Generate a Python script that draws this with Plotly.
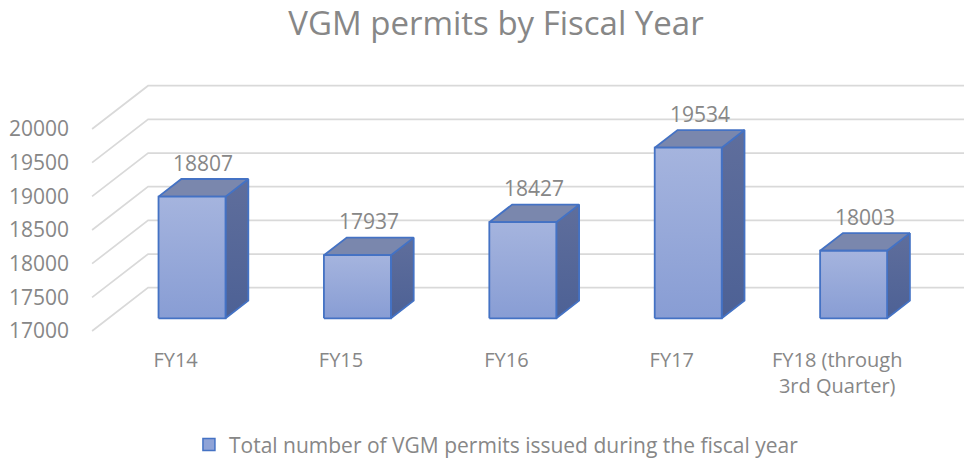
import plotly.graph_objects as go

# ---------------- data ----------------
categories = ["FY14", "FY15", "FY16", "FY17", "FY18 (through 3rd Quarter)"]
tick_labels = ["FY14", "FY15", "FY16", "FY17", "FY18 (through<br>3rd Quarter)"]
permits = [18807, 17937, 18427, 19534, 18003]
y_ticks = [17000, 17500, 18000, 18500, 19000, 19500, 20000]
series_name = "Total number of VGM permits issued during the fiscal year"
title_text = "VGM permits by Fiscal Year"

# ---------------- 3-D look settings (axis units) ----------------
BASE = y_ticks[0]
DEPTH_X = 0.3386      # category units per unit of depth
DEPTH_Y = 643.0       # value units per unit of depth
D_FRONT, D_BACK = 0.293, 0.70
HALF_W = 0.2025
WALL_L, WALL_R = -0.505, len(categories) - 0.5

TEXT = "#878787"
GRID = "#d9d9d9"
EDGE = "#4472c4"
FONT = "Open Sans"


def proj(x, v, d):
    return x + DEPTH_X * d, v + DEPTH_Y * d


fig = go.Figure()

# gridlines: side wall (slanted) + back wall (horizontal)
gx, gy = [], []
for v in y_ticks:
    pts = [proj(WALL_L, v, 0), proj(WALL_L, v, 1), proj(WALL_R, v, 1)]
    gx += [p[0] for p in pts] + [None]
    gy += [p[1] for p in pts] + [None]
fig.add_trace(go.Scatter(x=gx, y=gy, mode="lines", line=dict(color=GRID, width=1.7),
                         hoverinfo="skip", showlegend=False))


def face(corners, fill, grad=None):
    xs = [proj(*c)[0] for c in corners] + [proj(*corners[0])[0]]
    ys = [proj(*c)[1] for c in corners] + [proj(*corners[0])[1]]
    kw = dict(x=xs, y=ys, mode="lines", fill="toself",
              line=dict(color=EDGE, width=1.8), hoverinfo="skip", showlegend=False)
    if grad:
        kw["fillgradient"] = dict(type="vertical", colorscale=grad)
    else:
        kw["fillcolor"] = fill
    return go.Scatter(**kw)


for i, v in enumerate(permits):
    l, r = i - HALF_W, i + HALF_W
    # side face
    fig.add_trace(face([(r, BASE, D_FRONT), (r, v, D_FRONT), (r, v, D_BACK), (r, BASE, D_BACK)],
                       None, [[0, "#4d6195"], [1, "#5f6e9c"]]))
    # top face
    fig.add_trace(face([(l, v, D_FRONT), (r, v, D_FRONT), (r, v, D_BACK), (l, v, D_BACK)],
                       "#7a87ad"))
    # front face
    fig.add_trace(face([(l, BASE, D_FRONT), (r, BASE, D_FRONT), (r, v, D_FRONT), (l, v, D_FRONT)],
                       None, [[0, "#889dd4"], [1, "#a5b4de"]]))
    # value label
    lx, ly = proj(i, v, (D_FRONT + D_BACK) / 2)
    fig.add_annotation(x=lx, y=ly, text=str(v), showarrow=False, yshift=25,
                       font=dict(family=FONT, size=21, color=TEXT))

# legend entry
fig.add_trace(go.Bar(x=[None], y=[None], name=series_name,
                     marker=dict(color="#8fa3d7", line=dict(color=EDGE, width=1.5))))

fig.update_layout(
    width=964, height=460,
    margin=dict(l=70, r=0, t=0, b=114, autoexpand=False),
    paper_bgcolor="white", plot_bgcolor="white",
    font=dict(family=FONT, color=TEXT, size=20),
    title=dict(text=title_text, x=0.5145, xanchor="center", xref="container",
               y=0.95, yanchor="middle", yref="container",
               font=dict(family=FONT, size=33, color=TEXT)),
    xaxis=dict(type="linear", range=[-0.6385, 4.7666], tickvals=list(range(len(categories))),
               ticktext=tick_labels, showgrid=False, zeroline=False, showline=False,
               ticks="", tickfont=dict(size=20, color=TEXT), fixedrange=True, automargin=False),
    yaxis=dict(type="linear", range=[16777, 21916], tickvals=y_ticks, tickformat="d",
               showgrid=False, zeroline=False, showline=False, ticks="",
               tickfont=dict(size=21, color=TEXT), fixedrange=True, automargin=False),
    showlegend=True,
    legend=dict(orientation="h", xref="container", yref="container", x=0.196, xanchor="left",
                y=0.033, yanchor="middle", font=dict(size=21, color=TEXT)),
)

fig.write_html("out.html", config={"displayModeBar": False},
               post_script="document.body.style.margin='0';")
